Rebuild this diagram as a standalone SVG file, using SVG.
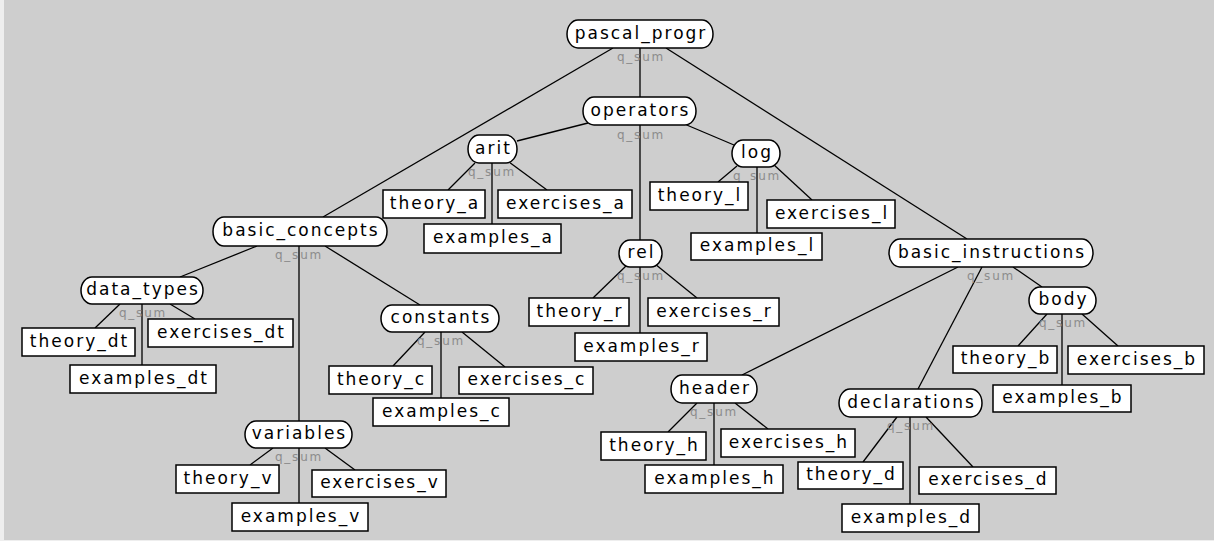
<svg xmlns="http://www.w3.org/2000/svg" width="1214" height="541" viewBox="0 0 1214 541">
<style>
.bg{fill:#cecece}
.pill{fill:#fff;stroke:#000;stroke-width:1.5}
.box{fill:#fff;stroke:#000;stroke-width:1.5}
.lbl{font-family:"DejaVu Sans",sans-serif;font-size:17px;letter-spacing:2px;text-anchor:middle;fill:#000}
.q{font-family:"DejaVu Sans",sans-serif;font-size:12px;letter-spacing:1.8px;text-anchor:middle;fill:#8c8c8c}
#connectors line{stroke:#000;stroke-width:1.3}
</style>
<rect class="bg" x="0" y="0" width="1214" height="541"/>
<rect x="0" y="0" width="4" height="541" fill="#eeeeee"/>
<rect x="0" y="540" width="1214" height="1" fill="#eeeeee"/>
<g id="connectors">
<line x1="613" y1="48" x2="323" y2="217"/>
<line x1="640" y1="48" x2="640" y2="97"/>
<line x1="666" y1="48" x2="967" y2="239"/>
<line x1="588" y1="123" x2="517" y2="141"/>
<line x1="640" y1="125" x2="640" y2="240"/>
<line x1="682" y1="123" x2="734" y2="145"/>
<line x1="475" y1="163" x2="448" y2="190"/>
<line x1="492" y1="163" x2="492" y2="224"/>
<line x1="509" y1="162" x2="547" y2="190"/>
<line x1="737" y1="166" x2="718" y2="182"/>
<line x1="757" y1="167" x2="757" y2="233"/>
<line x1="773" y1="164" x2="812" y2="200"/>
<line x1="627" y1="265" x2="593" y2="298"/>
<line x1="640" y1="267" x2="640" y2="333"/>
<line x1="655" y1="264" x2="697" y2="298"/>
<line x1="257" y1="246" x2="180" y2="277"/>
<line x1="299" y1="246" x2="299" y2="421"/>
<line x1="325" y1="246" x2="420" y2="305"/>
<line x1="120" y1="304" x2="95" y2="328"/>
<line x1="142" y1="304" x2="142" y2="365"/>
<line x1="170" y1="304" x2="195" y2="319"/>
<line x1="425" y1="332" x2="393" y2="366"/>
<line x1="441" y1="332" x2="441" y2="398"/>
<line x1="462" y1="332" x2="505" y2="367"/>
<line x1="273" y1="448" x2="250" y2="465"/>
<line x1="299" y1="448" x2="299" y2="503"/>
<line x1="325" y1="448" x2="355" y2="470"/>
<line x1="958" y1="267" x2="742" y2="375"/>
<line x1="982" y1="267" x2="918" y2="389"/>
<line x1="1013" y1="267" x2="1042" y2="287"/>
<line x1="1047" y1="314" x2="1018" y2="346"/>
<line x1="1062" y1="314" x2="1062" y2="385"/>
<line x1="1082" y1="314" x2="1118" y2="346"/>
<line x1="697" y1="403" x2="668" y2="432"/>
<line x1="714" y1="403" x2="714" y2="465"/>
<line x1="735" y1="403" x2="768" y2="429"/>
<line x1="897" y1="417" x2="863" y2="462"/>
<line x1="910" y1="417" x2="910" y2="504"/>
<line x1="926" y1="417" x2="973" y2="467"/>
</g>
<g id="pascal_progr"><rect class="pill" x="567" y="20" width="146" height="28" rx="11" ry="14"/><text class="lbl" x="641" y="39">pascal_progr</text><text class="q" x="641" y="61">q_sum</text></g>
<g id="operators"><rect class="pill" x="583" y="97" width="113" height="28" rx="11" ry="14"/><text class="lbl" x="640.5" y="116">operators</text><text class="q" x="641" y="139">q_sum</text></g>
<g id="arit"><rect class="pill" x="468" y="135" width="49" height="28" rx="11" ry="14"/><text class="lbl" x="493.5" y="154">arit</text><text class="q" x="492" y="176">q_sum</text></g>
<g id="log"><rect class="pill" x="732" y="140" width="48" height="27" rx="11" ry="13.5"/><text class="lbl" x="757" y="158">log</text><text class="q" x="757" y="180">q_sum</text></g>
<g id="rel"><rect class="pill" x="619" y="240" width="43" height="27" rx="11" ry="13.5"/><text class="lbl" x="641.5" y="258">rel</text><text class="q" x="641" y="280">q_sum</text></g>
<g id="basic_concepts"><rect class="pill" x="213" y="217" width="174" height="29" rx="11" ry="14.5"/><text class="lbl" x="301" y="236">basic_concepts</text><text class="q" x="299" y="259">q_sum</text></g>
<g id="data_types"><rect class="pill" x="81" y="277" width="122" height="27" rx="11" ry="13.5"/><text class="lbl" x="143" y="295">data_types</text><text class="q" x="143" y="317">q_sum</text></g>
<g id="constants"><rect class="pill" x="381" y="305" width="118" height="27" rx="11" ry="13.5"/><text class="lbl" x="441" y="323">constants</text><text class="q" x="441" y="345">q_sum</text></g>
<g id="variables"><rect class="pill" x="245" y="421" width="107" height="27" rx="11" ry="13.5"/><text class="lbl" x="299.5" y="439">variables</text><text class="q" x="299" y="461">q_sum</text></g>
<g id="basic_instructions"><rect class="pill" x="889" y="239" width="204" height="28" rx="11" ry="14"/><text class="lbl" x="992" y="258">basic_instructions</text><text class="q" x="991" y="280">q_sum</text></g>
<g id="body"><rect class="pill" x="1029" y="287" width="67" height="27" rx="11" ry="13.5"/><text class="lbl" x="1063.5" y="305">body</text><text class="q" x="1063" y="327">q_sum</text></g>
<g id="header"><rect class="pill" x="671" y="375" width="86" height="28" rx="11" ry="14"/><text class="lbl" x="715" y="394">header</text><text class="q" x="714" y="416">q_sum</text></g>
<g id="declarations"><rect class="pill" x="839" y="389" width="143" height="28" rx="11" ry="14"/><text class="lbl" x="911.5" y="408">declarations</text><text class="q" x="911" y="430">q_sum</text></g>
<g id="theory_a"><rect class="box" x="383" y="190" width="102" height="28"/><text class="lbl" x="435" y="209">theory_a</text></g>
<g id="exercises_a"><rect class="box" x="498" y="190" width="134" height="28"/><text class="lbl" x="566" y="209">exercises_a</text></g>
<g id="examples_a"><rect class="box" x="424" y="224" width="137" height="29"/><text class="lbl" x="493.5" y="243">examples_a</text></g>
<g id="theory_l"><rect class="box" x="650" y="182" width="98" height="28"/><text class="lbl" x="700" y="201">theory_l</text></g>
<g id="exercises_l"><rect class="box" x="767" y="200" width="128" height="28"/><text class="lbl" x="832" y="219">exercises_l</text></g>
<g id="examples_l"><rect class="box" x="691" y="233" width="131" height="27"/><text class="lbl" x="757.5" y="251">examples_l</text></g>
<g id="theory_r"><rect class="box" x="529" y="298" width="100" height="28"/><text class="lbl" x="580" y="317">theory_r</text></g>
<g id="exercises_r"><rect class="box" x="648" y="298" width="131" height="28"/><text class="lbl" x="714.5" y="317">exercises_r</text></g>
<g id="examples_r"><rect class="box" x="575" y="333" width="132" height="28"/><text class="lbl" x="642" y="352">examples_r</text></g>
<g id="theory_dt"><rect class="box" x="22" y="328" width="113" height="28"/><text class="lbl" x="79.5" y="347">theory_dt</text></g>
<g id="exercises_dt"><rect class="box" x="148" y="319" width="145" height="28"/><text class="lbl" x="221.5" y="338">exercises_dt</text></g>
<g id="examples_dt"><rect class="box" x="70" y="365" width="146" height="28"/><text class="lbl" x="144" y="384">examples_dt</text></g>
<g id="theory_c"><rect class="box" x="329" y="366" width="103" height="28"/><text class="lbl" x="381.5" y="385">theory_c</text></g>
<g id="exercises_c"><rect class="box" x="459" y="367" width="134" height="27"/><text class="lbl" x="527" y="385">exercises_c</text></g>
<g id="examples_c"><rect class="box" x="373" y="398" width="136" height="28"/><text class="lbl" x="442" y="417">examples_c</text></g>
<g id="theory_v"><rect class="box" x="176" y="465" width="103" height="28"/><text class="lbl" x="228.5" y="484">theory_v</text></g>
<g id="exercises_v"><rect class="box" x="312" y="470" width="134" height="27"/><text class="lbl" x="380" y="488">exercises_v</text></g>
<g id="examples_v"><rect class="box" x="232" y="503" width="136" height="28"/><text class="lbl" x="301" y="522">examples_v</text></g>
<g id="theory_b"><rect class="box" x="953" y="346" width="104" height="27"/><text class="lbl" x="1006" y="364">theory_b</text></g>
<g id="exercises_b"><rect class="box" x="1068" y="346" width="136" height="28"/><text class="lbl" x="1137" y="365">exercises_b</text></g>
<g id="examples_b"><rect class="box" x="993" y="385" width="138" height="27"/><text class="lbl" x="1063" y="403">examples_b</text></g>
<g id="theory_h"><rect class="box" x="601" y="432" width="105" height="28"/><text class="lbl" x="654.5" y="451">theory_h</text></g>
<g id="exercises_h"><rect class="box" x="721" y="429" width="134" height="28"/><text class="lbl" x="789" y="448">exercises_h</text></g>
<g id="examples_h"><rect class="box" x="645" y="465" width="138" height="28"/><text class="lbl" x="715" y="484">examples_h</text></g>
<g id="theory_d"><rect class="box" x="798" y="462" width="105" height="27"/><text class="lbl" x="851.5" y="480">theory_d</text></g>
<g id="exercises_d"><rect class="box" x="919" y="467" width="137" height="27"/><text class="lbl" x="988.5" y="485">exercises_d</text></g>
<g id="examples_d"><rect class="box" x="842" y="504" width="137" height="28"/><text class="lbl" x="911.5" y="523">examples_d</text></g>
</svg>
